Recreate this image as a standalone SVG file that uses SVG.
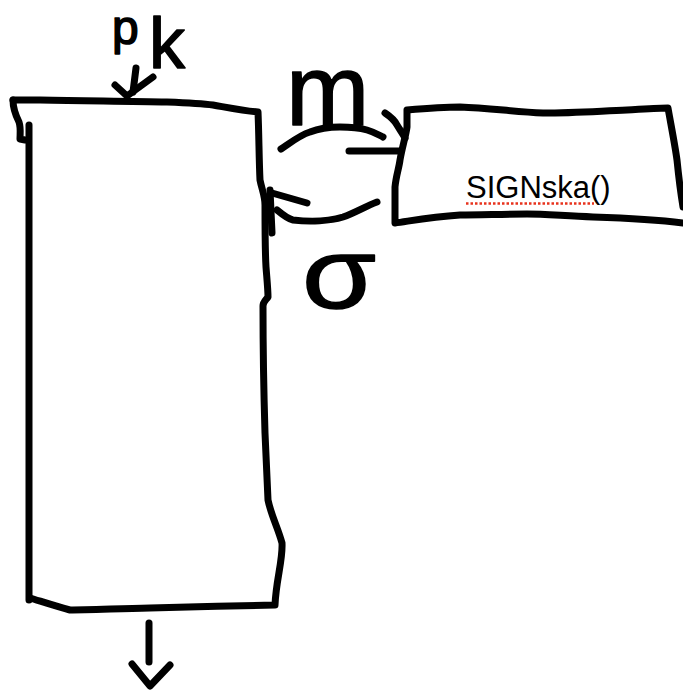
<svg xmlns="http://www.w3.org/2000/svg" width="683" height="692" viewBox="0 0 683 692">
  <style>
    .ink { fill: none; stroke: #000; stroke-width: 7; stroke-linecap: round; stroke-linejoin: round; }
    .hand { font-family: "Liberation Sans", "DejaVu Sans", sans-serif; fill: #000; stroke: #000; stroke-width: 1.5; stroke-linejoin: round; }
    .label { font-family: "Liberation Sans", Arial, sans-serif; font-size: 31px; fill: #000; }
    .spell { fill: none; stroke: #e8321c; stroke-width: 2.5; stroke-dasharray: 2.5 2; }
  </style>
  <rect width="683" height="692" fill="#fff"/>

  <g id="signer">
    <path class="ink" d="M13,100 L40,100 C90,101 130,101 167,102 C190,103 205,104 213,105 C230,108 245,111 258,112 C259,135 259,160 260,180 C262,190 265,196 265,205 C265,230 265,250 266,267 C267,280 268,290 268,297 C266,300 263,302 263,306 C263,350 264,400 265,433 C266,460 267,480 268,500 C271,515 278,528 282,543 C283,560 276,580 275,605 C240,606 180,607 150,608 C110,609 85,610 70,610 C55,606 40,601 30,598"/>
    <path class="ink" d="M29,125 L29,600"/>
    <path class="ink" d="M13,100 C13,108 16,116 19,122 C21,128 20,134 20,139 L25,140"/>
  </g>

  <g id="sign-box">
    <path class="ink" d="M407,110 C430,108 445,107 460,107 C490,108 515,112 543,113 C575,113 600,111 627,110 C645,109 660,108 668,108 C671,125 675,145 677,160 C679,180 681,195 683,207 M683,223 C660,220 625,218 593,217 C565,216 545,214 527,214 C505,214 480,215 460,215 C430,217 410,221 395,223 C395,210 395,198 395,187 C396,176 399,168 400,160 C402,148 406,135 407,127 L407,110"/>
    <text class="label" x="466" y="198">SIGNska()</text>
    <path class="spell" d="M466,203.5 L594,203.5"/>
  </g>

  <g id="labels">
    <text class="hand" x="112" y="44" font-size="48">p<tspan font-size="72" x="149" y="68">k</tspan></text>
    <text class="hand" x="286" y="125" font-size="100">m</text>
    <text class="hand" x="0" y="0" font-size="100" transform="translate(302,308) scale(1.2,1)">σ</text>
  </g>

  <g id="connectors">
    <!-- input arrow into top of signer -->
    <path class="ink" d="M136,68 L133,92"/>
    <path class="ink" d="M115,85 L127,96 L153,77"/>
    <!-- output arrow from bottom of signer -->
    <path class="ink" d="M149,623 L149,662"/>
    <path class="ink" d="M132,664 L150,686 L170,665"/>
    <!-- m: signer -> SIGNska box -->
    <path class="ink" d="M281,149 C290,143 300,135 310,132 C320,128 330,127 340,127 C352,127 360,128 367,130 C374,132 379,135 383,137"/>
    <path class="ink" d="M349,151 L400,151"/>
    <path class="ink" d="M385,113 C391,117 395,121 397,125 C400,130 403,134 405,138"/>
    <!-- sigma: SIGNska box -> signer -->
    <path class="ink" d="M270,190 L272,233"/>
    <path class="ink" d="M272,193 L307,203"/>
    <path class="ink" d="M277,210 C283,215 288,219 293,220 C310,222 330,221 343,217 C355,213 366,206 377,202"/>
  </g>
</svg>
